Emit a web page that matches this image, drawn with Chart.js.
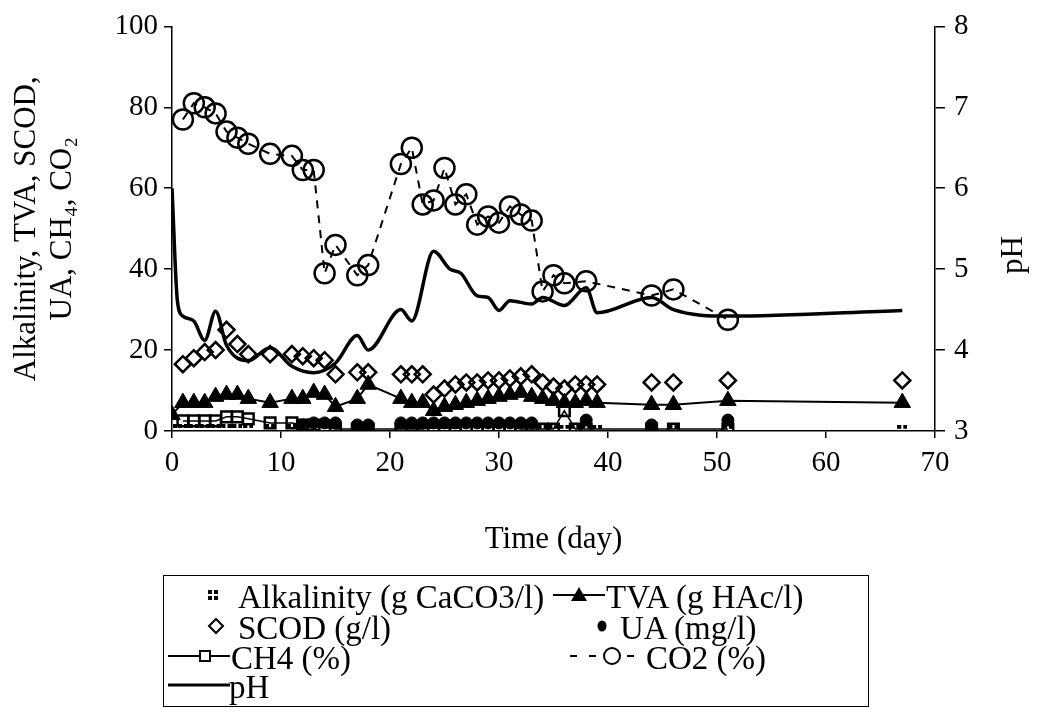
<!DOCTYPE html>
<html>
<head>
<meta charset="utf-8">
<script src="https://cdn.jsdelivr.net/npm/chart.js@4.4.0/dist/chart.umd.min.js"></script>
<style>
html, body { margin: 0; padding: 0; background: #fff; }
#wrap { position: relative; width: 1041px; height: 713px; }
#chart { position: absolute; left: 0; top: 0; }
#legend { position: absolute; left: 163px; top: 575px; width: 706px; height: 132px;
  border: 1.5px solid #000; box-sizing: border-box; }
.lg { position: absolute; font-family: "Liberation Serif", serif; font-size: 33px; color: #000;
  white-space: nowrap; line-height: 32px; transform: translateY(-50%); }
.ic { position: absolute; transform: translateY(-50%); }
#phTitle { position: absolute; left: 1012px; top: 255px; font-family: "Liberation Serif", serif;
  font-size: 31px; transform: translate(-50%, -50%) rotate(-90deg); white-space: nowrap; }
</style>
</head>
<body>
<div id="wrap">
  <canvas id="chart" width="1041" height="713"></canvas>
  <div id="phTitle">pH</div>
  <div id="legend"></div>
</div>
<script>
// sampling days and readings
const alkDays = [0, 1, 2, 3, 4, 5, 6, 7, 9, 11, 12, 13, 14, 15, 17, 18, 21, 22, 23, 24, 25, 26, 27, 28, 29, 30, 31, 32, 33, 34, 35, 36, 37, 38, 39, 44, 46, 51, 67];
const alkValues = [0.5, 0.5, 0.5, 0.5, 0.5, 0.5, 0.5, 0.5, 0.5, 0.5, 0.5, 0.5, 0.5, 0.3, 0.3, 0.3, 0.3, 0.3, 0.3, 0.3, 0.3, 0.3, 0.5, 0.5, 0.5, 0.5, 0.5, 0.5, 0.5, 0.3, 0.3, 0.3, 0.3, 0.3, 0.3, 0.3, 0.3, 0.3, 0.3];

const tvaDays = [0, 1, 2, 3, 4, 5, 6, 7, 9, 11, 12, 13, 14, 15, 17, 18, 21, 22, 23, 24, 25, 26, 27, 28, 29, 30, 31, 32, 33, 34, 35, 36, 37, 38, 39, 44, 46, 51, 67];
const tvaValues = [4, 7, 7, 7, 8.5, 9, 9, 8, 7, 8, 8, 9.5, 9, 6, 8, 11.5, 8, 7, 7, 5, 6, 6.5, 7, 7.5, 8, 8.5, 9, 9.5, 8.5, 8, 7.5, 7, 7, 7.5, 7, 6.5, 6.5, 7.5, 7];

const scodDays = [1, 2, 3, 4, 5, 6, 7, 9, 11, 12, 13, 14, 15, 17, 18, 21, 22, 23, 24, 25, 26, 27, 28, 29, 30, 31, 32, 33, 34, 35, 36, 37, 38, 39, 44, 46, 51, 67];
const scodValues = [16.5, 18, 19.5, 20, 25, 21.5, 19, 19, 19, 18.5, 18, 17.5, 14, 14.5, 14.5, 14, 14, 14, 9, 10.5, 11.5, 12, 12, 12.5, 12.5, 13, 13.5, 14, 12, 11, 10.5, 11.5, 11.5, 11.5, 12, 12, 12.5, 12.5];

const uaDays = [12, 13, 14, 15, 17, 18, 21, 22, 23, 24, 25, 26, 27, 28, 29, 30, 31, 32, 33, 38, 44, 51];
const uaValues = [1.5, 2, 2, 2, 1.5, 1.5, 2, 2, 2, 2, 2, 2, 2, 2, 2, 2, 2, 2, 2, 2.7, 1.5, 2.7];

const ch4Days = [1, 2, 3, 4, 5, 6, 7, 9, 11, 12, 13, 14, 15, 17, 18, 21, 22, 23, 24, 25, 26, 27, 28, 29, 30, 31, 32, 33, 34, 35, 36, 37, 38, 44, 46, 51];
const ch4Values = [2.5, 2.5, 2.5, 2.5, 3.5, 3.5, 3, 2, 2, 1.5, 1.5, 1, 0.5, 0.5, 0.5, 0.5, 0.5, 0.5, 1, 1, 1, 1, 1, 1, 1, 1, 0.5, 0.5, 0.5, 0.5, 5, 0.5, 0.5, 0.5, 0.5, 0.5];

const co2Days = [1, 2, 3, 4, 5, 6, 7, 9, 11, 12, 13, 14, 15, 17, 18, 21, 22, 23, 24, 25, 26, 27, 28, 29, 30, 31, 32, 33, 34, 35, 36, 38, 44, 46, 51];
const co2Values = [77, 81, 80, 78.5, 74, 72.5, 71, 68.5, 68, 64.5, 64.5, 39, 46, 38.5, 41, 66, 70, 56, 57, 65, 56, 58.5, 51, 53, 51.5, 55.5, 53.5, 52, 34.5, 38.5, 36.5, 37, 33.5, 35, 27.5];

const phDays = [0, 0.5, 1, 2, 3, 4, 5, 7, 9, 11, 13, 15, 17, 18, 21, 22, 24, 25.5, 26.5, 28, 29, 30, 31, 33, 34, 36, 38, 39, 44, 46, 51, 67];
const phValues = [6.0, 4.6, 4.42, 4.36, 4.12, 4.48, 4.06, 3.87, 4.03, 3.8, 3.72, 3.84, 4.18, 4.0, 4.5, 4.36, 5.22, 5.0, 4.95, 4.67, 4.65, 4.49, 4.61, 4.57, 4.65, 4.55, 4.77, 4.46, 4.65, 4.5, 4.42, 4.49];

const leftTicks = [0, 20, 40, 60, 80, 100];
const rightTicks = [3, 4, 5, 6, 7, 8];
const dayTicks = [0, 10, 20, 30, 40, 50, 60, 70];

function pts(days, vals) {
    return days.map((d, i) => ({ x: d, y: vals[i] }));
}

// four small squares, the alkalinity marker
const alkMarker = document.createElement('canvas');
alkMarker.width = 10;
alkMarker.height = 10;
(function () {
    const c = alkMarker.getContext('2d');
    c.fillStyle = '#000';
    c.fillRect(0, 0, 4, 4);
    c.fillRect(6, 0, 4, 4);
    c.fillRect(0, 6, 4, 4);
    c.fillRect(6, 6, 4, 4);
})();

const serif = 'Liberation Serif';
const none = 'rgba(0,0,0,0)';

const ctx = document.getElementById('chart').getContext('2d');
const chart = new Chart(ctx, {
    type: 'scatter',
    data: {
        datasets: [
            {
                label: 'Alkalinity (g CaCO3/l)', data: pts(alkDays, alkValues), yAxisID: 'y',
                showLine: false, pointStyle: alkMarker, pointRadius: 5
            },
            {
                label: 'TVA (g HAc/l)', data: pts(tvaDays, tvaValues), yAxisID: 'y',
                showLine: true, borderColor: '#000', borderWidth: 2, backgroundColor: '#000',
                pointStyle: 'triangle', pointRadius: 9.5, pointBorderWidth: 1
            },
            {
                label: 'SCOD (g/l)', data: pts(scodDays, scodValues), yAxisID: 'y',
                showLine: false, borderColor: '#000', backgroundColor: none,
                pointStyle: 'rectRot', pointRadius: 8, pointBorderWidth: 2.5
            },
            {
                label: 'UA (mg/l)', data: pts(uaDays, uaValues), yAxisID: 'y',
                showLine: false, borderColor: '#000', backgroundColor: '#000',
                pointStyle: 'circle', pointRadius: 6
            },
            {
                label: 'CH4 (%)', data: pts(ch4Days, ch4Values), yAxisID: 'y',
                showLine: true, borderColor: '#000', borderWidth: 1.5, backgroundColor: none,
                pointStyle: 'rect', pointRadius: 7.5, pointBorderWidth: 2.5
            },
            {
                label: 'CO2 (%)', data: pts(co2Days, co2Values), yAxisID: 'y',
                showLine: true, borderColor: '#000', borderWidth: 2, borderDash: [8, 7],
                backgroundColor: none, pointStyle: 'circle', pointRadius: 10, pointBorderWidth: 2.5
            },
            {
                label: 'pH', data: pts(phDays, phValues), yAxisID: 'y1',
                showLine: true, borderColor: '#000', borderWidth: 3.5, pointRadius: 0,
                cubicInterpolationMode: 'monotone'
            }
        ]
    },
    options: {
        responsive: false,
        animation: false,
        events: [],
        layout: { padding: { top: 24, right: 0, bottom: 155, left: 0 } },
        plugins: { legend: { display: false }, tooltip: { enabled: false } },
        scales: {
            x: {
                type: 'linear', min: 0, max: 70,
                afterBuildTicks: s => { s.ticks = dayTicks.map(v => ({ value: v })); },
                afterFit: s => { s.height = 127; },
                border: { color: '#000', width: 1.5 },
                grid: { drawOnChartArea: false, color: '#000', tickLength: 7, lineWidth: 1.5 },
                ticks: { color: '#000', padding: 8, maxRotation: 0, font: { family: serif, size: 29 } },
                title: { display: true, text: 'Time (day)', color: '#000', padding: 0,
                    font: { family: serif, size: 31, lineHeight: 1.2 } }
            },
            y: {
                position: 'left', min: 0, max: 100,
                afterBuildTicks: s => { s.ticks = leftTicks.map(v => ({ value: v })); },
                afterFit: s => { s.width = 172; },
                border: { color: '#000', width: 1.5 },
                grid: { drawOnChartArea: false, color: '#000', tickLength: 8, lineWidth: 1.5 },
                ticks: { color: '#000', padding: 6, font: { family: serif, size: 29 } },
                title: { display: true, text: ['Alkalinity, TVA, SCOD,', 'UA, CH\u2084, CO\u2082'], color: '#000',
                    padding: { top: 9, bottom: 0 }, font: { family: serif, size: 31, lineHeight: 1.15 } }
            },
            y1: {
                position: 'right', min: 3, max: 8,
                afterBuildTicks: s => { s.ticks = rightTicks.map(v => ({ value: v })); },
                afterFit: s => { s.width = 106; },
                border: { color: '#000', width: 1.5 },
                grid: { drawOnChartArea: false, color: '#000', tickLength: 10, lineWidth: 1.5 },
                ticks: { color: '#000', padding: 9, font: { family: serif, size: 29 } }
            }
        }
    }
});

// legend drawn as html next to the canvas, positions in page pixels
const legendRows = [597, 628, 658, 687];
const legendItems = [
    { icon: 'alk', x: 166, text: 'Alkalinity (g CaCO3/l)', tx: 238, row: 0 },
    { icon: 'tva', x: 553, text: 'TVA (g HAc/l)', tx: 606, row: 0 },
    { icon: 'scod', x: 166, text: 'SCOD (g/l)', tx: 238, row: 1 },
    { icon: 'ua', x: 552, text: 'UA (mg/l)', tx: 620, row: 1 },
    { icon: 'ch4', x: 168, text: 'CH4 (%)', tx: 231, row: 2 },
    { icon: 'co2', x: 568, text: 'CO2 (%)', tx: 646, row: 2 },
    { icon: 'ph', x: 168, text: 'pH', tx: 229, row: 3 }
];

function iconSvg(kind) {
    const open = 'fill="none" stroke="#000" stroke-width="2"';
    switch (kind) {
        case 'alk':
            return '<svg width="70" height="20"><g fill="#000"><rect x="42" y="5" width="4" height="4"/><rect x="48" y="5" width="4" height="4"/>' +
                '<rect x="42" y="11" width="4" height="4"/><rect x="48" y="11" width="4" height="4"/></g></svg>';
        case 'tva':
            return '<svg width="52" height="20"><line x1="0" y1="10" x2="52" y2="10" stroke="#000" stroke-width="2"/>' +
                '<polygon points="26,2 34,16 18,16" fill="#000"/></svg>';
        case 'scod':
            return '<svg width="70" height="20"><polygon points="50,3 57,10 50,17 43,10" ' + open + '/></svg>';
        case 'ua':
            return '<svg width="60" height="20"><ellipse cx="50" cy="10" rx="4.5" ry="5.5" fill="#000"/></svg>';
        case 'ch4':
            return '<svg width="62" height="20"><line x1="0" y1="10" x2="62" y2="10" stroke="#000" stroke-width="2"/>' +
                '<rect x="32" y="5" width="10" height="10" fill="#fff" stroke="#000" stroke-width="2"/></svg>';
        case 'co2':
            return '<svg width="72" height="22"><line x1="2" y1="11" x2="70" y2="11" stroke="#000" stroke-width="2" stroke-dasharray="7,12"/>' +
                '<circle cx="44" cy="11" r="8" fill="#fff" stroke="#000" stroke-width="2"/></svg>';
        case 'ph':
            return '<svg width="62" height="20"><line x1="0" y1="10" x2="62" y2="10" stroke="#000" stroke-width="3"/></svg>';
    }
    return '';
}

const wrap = document.getElementById('wrap');
legendItems.forEach(item => {
    const y = legendRows[item.row];
    const ic = document.createElement('div');
    ic.className = 'ic';
    ic.style.left = item.x + 'px';
    ic.style.top = y + 'px';
    ic.innerHTML = iconSvg(item.icon);
    wrap.appendChild(ic);
    const t = document.createElement('div');
    t.className = 'lg';
    t.style.left = item.tx + 'px';
    t.style.top = y + 'px';
    t.textContent = item.text;
    wrap.appendChild(t);
});
</script>
</body>
</html>
